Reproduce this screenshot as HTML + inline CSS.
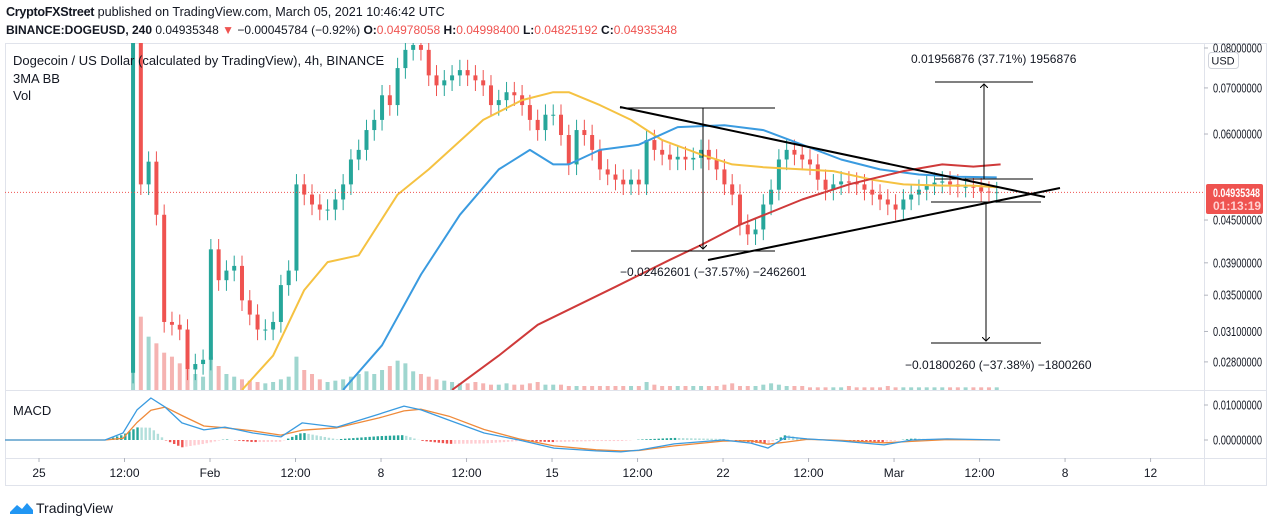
<!DOCTYPE html>
<html><head><meta charset="utf-8">
<style>
body{margin:0;background:#fff;width:1274px;height:528px;overflow:hidden;font-family:"Liberation Sans",sans-serif;}
.hdr{position:absolute;left:6px;color:#131722;white-space:nowrap;}
.red{color:#ef5350}
</style></head><body>
<div class="hdr" style="top:5px;font-size:12.6px"><span style="font-weight:bold;letter-spacing:-0.3px">CryptoFXStreet</span> published on TradingView.com, March 05, 2021 10:46:42 UTC</div>
<div class="hdr" style="top:23px;font-size:12px"><b>BINANCE:DOGEUSD, 240</b> 0.04935348 <span class="red">▼</span> −0.00045784 (−0.92%) <b>O:</b><span class="red">0.04978058</span> <b>H:</b><span class="red">0.04998400</span> <b>L:</b><span class="red">0.04825192</span> <b>C:</b><span class="red">0.04935348</span></div>
<svg id="chart" width="1274" height="528" style="position:absolute;left:0;top:0">
<defs><clipPath id="pc"><rect x="5" y="43" width="1199" height="347"/></clipPath>
<clipPath id="mc"><rect x="5" y="390" width="1199" height="68"/></clipPath>
<marker id="ar" markerWidth="8" markerHeight="8" refX="4" refY="4" orient="auto"><path d="M0,0 L4,4 L0,8" fill="none" stroke="#000" stroke-width="1"/></marker></defs>
<rect x="5.5" y="43.5" width="1261" height="442" fill="none" stroke="#e0e3eb"/>
<line x1="1204.5" y1="43" x2="1204.5" y2="486" stroke="#e0e3eb"/>
<line x1="5" y1="390.5" x2="1267" y2="390.5" stroke="#e0e3eb"/>
<line x1="5" y1="458.5" x2="1267" y2="458.5" stroke="#e0e3eb"/>
<g id="vol" clip-path="url(#pc)"></g>
<g id="candles" clip-path="url(#pc)"></g>
<g id="mas" clip-path="url(#pc)"></g>
<g id="macd" clip-path="url(#mc)"></g>
<g id="axes"></g>
<g id="draw" stroke="#000" stroke-width="2" fill="none">
<line x1="620" y1="107" x2="1045" y2="197"/>
<line x1="708" y1="260" x2="1060" y2="188"/>
<g stroke-width="1">
<line x1="620" y1="108" x2="775" y2="108"/><line x1="631" y1="251" x2="775" y2="251"/>
<line x1="703" y1="108" x2="703" y2="249" marker-end="url(#ar)"/>
<line x1="935" y1="82" x2="1033" y2="82"/><line x1="935" y1="179" x2="1033" y2="179"/>
<line x1="984" y1="179" x2="984" y2="84" marker-end="url(#ar)"/>
<line x1="931" y1="202" x2="1041" y2="202"/><line x1="931" y1="343" x2="1041" y2="343"/>
<line x1="986" y1="202" x2="986" y2="341" marker-end="url(#ar)"/>
</g></g>
<g font-size="12" fill="#131722">
<text x="620" y="276">−0.02462601 (−37.57%) −2462601</text>
<text x="911" y="63">0.01956876 (37.71%) 1956876</text>
<text x="905" y="369">−0.01800260 (−37.38%) −1800260</text>
</g>
<g font-size="13" fill="#131722">
<text x="13" y="65">Dogecoin / US Dollar (calculated by TradingView), 4h, BINANCE</text>
<text x="13" y="83">3MA BB</text>
<text x="13" y="100">Vol</text>
<text x="13" y="415">MACD</text>
</g>
<rect x="1208.5" y="52.5" width="30" height="16" rx="3" fill="#fff" stroke="#d1d4dc"/>
<text x="1223" y="64.5" font-size="11" text-anchor="middle" fill="#131722">USD</text>
<rect x="1206" y="184" width="57" height="30" rx="2" fill="#ef5350"/>
<text x="1213" y="197" font-size="12" font-weight="bold" fill="#fff" textLength="47" lengthAdjust="spacingAndGlyphs">0.04935348</text>
<text x="1213" y="210" font-size="12" font-weight="bold" fill="#ffd0d0">01:13:19</text>
<g transform="translate(10,500)">
<path d="M0,12 L7,5 L12,9 L17,3 L23,10 L23,14 L0,14Z" fill="#2196f3"/>
<text x="26" y="13" font-size="14" fill="#131722">TradingView</text></g>
</svg>
<script>
const closes=[0.0850,0.0507,0.0547,0.0458,0.0320,0.0317,0.0312,0.0273,0.0278,0.0282,0.0408,0.0368,0.0380,0.0386,0.0344,0.0328,0.0312,0.0312,0.0320,0.0362,0.0380,0.0507,0.0490,0.0474,0.0466,0.0466,0.0482,0.0507,0.0551,0.0569,0.0608,0.0629,0.0683,0.0661,0.0748,0.0795,0.0808,0.0795,0.0730,0.0706,0.0718,0.0730,0.0743,0.0730,0.0718,0.0706,0.0661,0.0672,0.0690,0.0683,0.0661,0.0629,0.0608,0.0640,0.0640,0.0598,0.0542,0.0608,0.0598,0.0569,0.0533,0.0524,0.0515,0.0507,0.0515,0.0507,0.0588,0.0569,0.0560,0.0551,0.0556,0.0551,0.0554,0.0569,0.0551,0.0533,0.0507,0.0490,0.0443,0.0429,0.0436,0.0474,0.0498,0.0551,0.0569,0.0560,0.0551,0.0542,0.0515,0.0498,0.0507,0.0512,0.0510,0.0507,0.0498,0.0490,0.0482,0.0474,0.0466,0.0482,0.0490,0.0498,0.0507,0.0510,0.0512,0.0507,0.0503,0.0503,0.0502,0.0495,0.0494,0.0494];
const firstOpen=0.0270;
const volumes=[60,55,40,35,28,25,20,15,12,10,25,18,12,10,8,7,6,5,6,8,10,25,15,12,8,6,7,8,10,12,14,12,15,18,22,20,14,12,10,8,7,6,5,5,6,5,4,4,5,4,4,5,6,4,4,4,3,3,3,3,3,3,3,3,3,3,6,4,3,3,3,3,3,3,3,3,4,5,3,3,3,4,5,4,3,3,3,2,2,2,2,2,3,2,2,2,2,3,2,2,2,2,2,2,2,2,2,2,2,2,2,2];
const yellowIdx=[14,18,22,25,29,34,38,45,50,54,56,60,64,68,73,77,81,86,90,95,99,104,108,111];
const yellowVals=[0.0255,0.0286,0.0356,0.0391,0.0400,0.0490,0.0533,0.0629,0.0672,0.0690,0.0690,0.0661,0.0629,0.0588,0.0560,0.0542,0.0537,0.0533,0.0530,0.0515,0.0507,0.0505,0.0505,0.0502];
const blueIdx=[27,32,37,42,47,51,54,56,60,65,70,76,81,86,91,96,101,106,111];
const blueVals=[0.0255,0.0296,0.0375,0.0458,0.0533,0.0569,0.0542,0.0542,0.0569,0.0579,0.0614,0.0618,0.0608,0.0579,0.0551,0.0533,0.0524,0.0520,0.0519];
const redIdx=[41,47,52,62,69,73,78,86,92,99,104,108,111.5];
const redVals=[0.0255,0.0286,0.0317,0.0360,0.0394,0.0414,0.0443,0.0482,0.0507,0.0530,0.0542,0.0538,0.0542];
const macdDays=[-1.4,2.7,3.44,4.01,4.58,5.16,5.85,6.75,7.61,8.76,9.9,10.77,12.2,13.92,14.94,15.64,16.78,18.22,19.65,21.08,22.8,23.82,24.56,26,28,29.14,29.84,30.58,31.44,32.87,34.59,35.73,37.17,39.34];
const macdVals=[0,0,0.0020,0.0086,0.0120,0.0094,0.0049,0.0029,0.0037,0.0020,0.0009,0.0049,0.0037,0.0074,0.0097,0.0086,0.0057,0.0020,0,-0.0023,-0.0031,-0.0034,-0.0029,-0.0011,0,-0.0009,-0.0023,0.0009,0.0003,-0.0003,-0.0014,0,0.0003,0];
const signalVals=[0,0,0.0005,0.0050,0.0085,0.0094,0.0070,0.0040,0.0035,0.0026,0.0014,0.0028,0.0035,0.0063,0.0083,0.0088,0.0068,0.0030,0.0003,-0.0017,-0.0028,-0.0031,-0.0030,-0.0017,-0.0003,-0.0002,-0.0012,-0.0006,0.0002,-0.0001,-0.0008,-0.0004,0.0001,0];
const priceTicks=[0.08,0.07,0.06,0.045,0.039,0.035,0.031,0.028];
const macdTicks=[0.01,0];
const timeLabels=["25","12:00","Feb","12:00","8","12:00","15","12:00","22","12:00","Mar","12:00","8","12"];
const lastPrice=0.04935348;

const NS="http://www.w3.org/2000/svg";
const firstDay=3.85, dayStep=0.3185, pxPerDay=24.43, x0=39;
const xDay=d=>x0+d*pxPerDay;
const xIdx=i=>xDay(firstDay+i*dayStep);
const yP=p=>48-299*(Math.log(p)-Math.log(0.08));
const yM=v=>440-v*3500;
function mk(tag,attrs,parent){const e=document.createElementNS(NS,tag);for(const k in attrs)e.setAttribute(k,attrs[k]);parent.appendChild(e);return e;}
const G=id=>document.getElementById(id);
const vmax=Math.max(...volumes);
volumes.forEach((v,i)=>{if(i>=closes.length)return;const o=i?closes[i-1]:firstOpen;const up=closes[i]>=o;const h=v/vmax*80;
 const r=mk('rect',{x:xIdx(i)-2,y:390-h,width:4,height:h,fill:up?'#9fd6cf':'#f5b3b1'},G('vol'));
 
 });
closes.forEach((c,i)=>{const o=i?closes[i-1]:firstOpen;const up=c>=o;const col=up?'#26a69a':'#ef5350';const x=xIdx(i);
 const hi=Math.max(o,c)*1.035, lo=Math.min(o,c)*0.965;
 const g=mk('g',{},G('candles'));
 
 
 mk('line',{x1:x,x2:x,y1:yP(hi),y2:yP(lo),stroke:col,'stroke-width':1},g);
 const t=Math.min(yP(o),yP(c));mk('rect',{x:x-2,y:t,width:4,height:Math.max(1,Math.abs(yP(o)-yP(c))),fill:col},g);});
function line(idx,vals,col,name,fx,fy,parent){const d=idx.map((v,k)=>(k?'L':'M')+fx(v).toFixed(1)+','+fy(vals[k]).toFixed(1)).join(' ');
 const p=mk('path',{d:d,fill:'none',stroke:col,'stroke-width':2,'stroke-linejoin':'round'},parent);
 
 }
line(yellowIdx,yellowVals,'#f5c242','ma-yellow-line',xIdx,yP,G('mas'));
line(blueIdx,blueVals,'#3a9be0','ma-blue-line',xIdx,yP,G('mas'));
line(redIdx,redVals,'#cf3a3a','ma-red-line',xIdx,yP,G('mas'));
const lp=mk('line',{x1:5,x2:1204,y1:yP(lastPrice),y2:yP(lastPrice),stroke:'#ef5350','stroke-dasharray':'1,2'},G('mas'));


function interp(days,vals,d){for(let k=1;k<days.length;k++){if(d<=days[k]){const t=(d-days[k-1])/(days[k]-days[k-1]);return vals[k-1]+t*(vals[k]-vals[k-1]);}}return vals[vals.length-1];}
let prev=0;
for(let d=2.7;d<=39.3;d+=1/6){const h=interp(macdDays,macdVals,d)-interp(macdDays,signalVals,d);const x=xDay(d);
 const col=h>=0?(h>=prev?'#26a69a':'#b2dfdb'):(h<prev?'#ef5350':'#ffcdd2');prev=h;
 const r=mk('rect',{x:x-1.2,y:Math.min(yM(0),yM(h)),width:2.4,height:Math.abs(yM(h)-yM(0)),fill:col},G('macd'));
 
 }
line(macdDays,signalVals,'#ef8a3a','macd-signal-line',xDay,yM,G('macd'));
line(macdDays,macdVals,'#3a9be0','macd-line',xDay,yM,G('macd'));
document.querySelectorAll('#macd path').forEach(p=>p.setAttribute('stroke-width','1.3'));
function axisLabel(v,y,name){mk('line',{x1:1204,x2:1208,y1:y,y2:y,stroke:'#b2b5be'},G('axes'));
 const t=mk('text',{x:1213,y:y+4.5,'font-size':12.5,fill:'#131722',textLength:49,lengthAdjust:'spacingAndGlyphs'},G('axes'));t.textContent=v.toFixed(8);
 
 }
priceTicks.forEach(p=>axisLabel(p,yP(p),'price-tick-label'));
macdTicks.forEach(v=>axisLabel(v,yM(v),'macd-tick-label'));
timeLabels.forEach((s,k)=>{const x=xDay(k*3.5);mk('line',{x1:x,x2:x,y1:458,y2:462,stroke:'#b2b5be'},G('axes'));
 const t=mk('text',{x:x,y:477,'font-size':12,'text-anchor':'middle',fill:'#131722'},G('axes'));t.textContent=s;
 
 });
</script>
</body></html>
